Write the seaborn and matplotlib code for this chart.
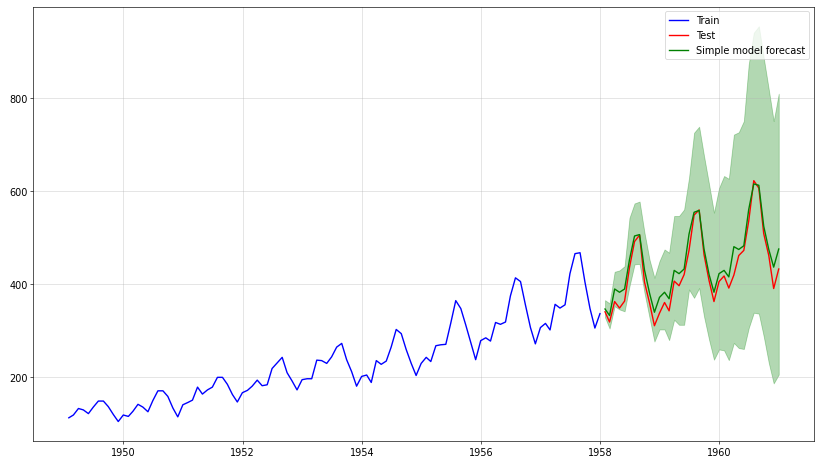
import pandas as pd
import numpy as np
import matplotlib
matplotlib.use('Agg')
import matplotlib.pyplot as plt
import seaborn as sns

plt.rcParams['font.size'] = 12

# monthly passengers, 1949-1957 (train) and 1958-1960 (test)
train_values = [112, 118, 132, 129, 121, 135, 148, 148, 136, 119, 104, 118,
                115, 126, 141, 135, 125, 149, 170, 170, 158, 133, 114, 140,
                145, 150, 178, 163, 172, 178, 199, 199, 184, 162, 146, 166,
                171, 180, 193, 181, 183, 218, 230, 242, 209, 191, 172, 194,
                196, 196, 236, 235, 229, 243, 264, 272, 237, 211, 180, 201,
                204, 188, 235, 227, 234, 264, 302, 293, 259, 229, 203, 229,
                242, 233, 267, 269, 270, 315, 364, 347, 312, 274, 237, 278,
                284, 277, 317, 313, 318, 374, 413, 405, 355, 306, 271, 306,
                315, 301, 356, 348, 355, 422, 465, 467, 404, 347, 305, 336]
test_values = [340, 318, 362, 348, 363, 435, 491, 505, 404, 359, 310, 337,
               360, 342, 406, 396, 420, 472, 548, 559, 463, 407, 362, 405,
               417, 391, 419, 461, 472, 535, 622, 606, 508, 461, 390, 432]

# forecast and its confidence band
forecast = [346, 332, 389, 382, 389, 452, 503, 506, 430, 380, 339, 371,
            382, 368, 429, 422, 432, 507, 554, 558, 475, 420, 382, 422,
            429, 415, 480, 474, 482, 560, 615, 612, 524, 474, 436, 475]
upper = [365, 358, 426, 429, 438, 542, 573, 577, 510, 452, 413, 449,
         474, 467, 546, 546, 560, 628, 725, 738, 675, 614, 553, 606,
         632, 626, 721, 726, 750, 872, 940, 954, 886, 818, 750, 809]
lower = [328, 304, 352, 345, 341, 395, 442, 443, 381, 327, 276, 302,
         302, 279, 323, 312, 312, 388, 370, 391, 330, 280, 237, 259,
         257, 236, 273, 262, 260, 305, 338, 336, 287, 230, 186, 205]

dates = pd.date_range('1949-01-31', periods=len(train_values) + len(test_values), freq='ME')
train = pd.DataFrame({'date': dates[:len(train_values)], 'value': train_values})
test = pd.DataFrame({'date': dates[len(train_values):], 'value': test_values,
                     'forecast': forecast, 'lower': lower, 'upper': upper})

fig, ax = plt.subplots(figsize=(14, 7.946), dpi=58.64)
fig.subplots_adjust(left=0.0406, right=0.9918, top=0.984, bottom=0.0509)

sns.lineplot(data=train, x='date', y='value', color='blue', label='Train', ax=ax, linewidth=1.7)
sns.lineplot(data=test, x='date', y='value', color='red', label='Test', ax=ax, linewidth=1.7)
sns.lineplot(data=test, x='date', y='forecast', color='green', label='Simple model forecast', ax=ax, linewidth=1.7)
ax.fill_between(test['date'], test['lower'], test['upper'], color='green', alpha=0.3)

ax.set_xlabel('')
ax.set_ylabel('')
ax.grid(alpha=0.5)
ax.legend(loc='upper right')

plt.savefig('out.png')
